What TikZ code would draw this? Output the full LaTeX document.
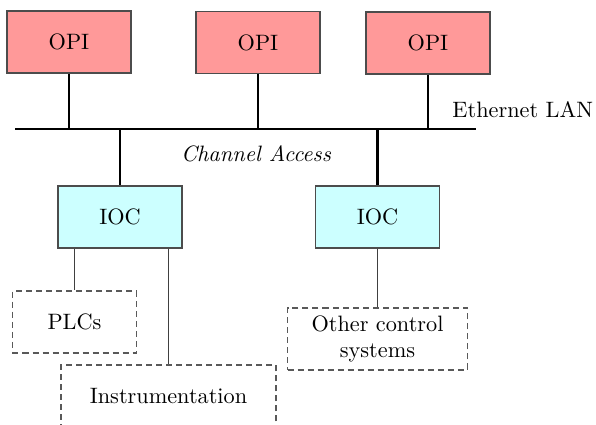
\documentclass[tikz,border=0pt]{standalone}
\definecolor{opifill}{RGB}{255,153,153}
\definecolor{iocfill}{RGB}{204,255,255}
\begin{document}
\begin{tikzpicture}[x=0.449pt,y=-0.449pt,
  box/.style={draw=black!70,line width=0.5pt,minimum width=55.7pt,minimum height=27.8pt,inner sep=0pt},
  opi/.style={box,fill=opifill},
  ioc/.style={box,fill=iocfill},
  ext/.style={draw=black!65,line width=0.5pt,dash pattern=on 2.7pt off 1.8pt,minimum height=27.8pt,inner sep=0pt,align=center},
  bus/.style={line width=0.9pt},
  link/.style={draw=black!75,line width=0.45pt}]
\clip (0,0) rectangle (596,425);
\useasboundingbox (0,0) rectangle (596,425);

% operator interfaces
\node[opi] (opi1) at (69,42) {OPI};
\node[opi] (opi2) at (258,42.5) {OPI};
\node[opi] (opi3) at (428,43) {OPI};

% the Ethernet segment
\coordinate (busL) at (15,129);
\coordinate (busR) at (476,129);
\draw[bus] (busL) -- (busR);
\node[anchor=base west,inner sep=0pt] (lan) at (452,118) {Ethernet LAN};
\node[font=\itshape] (ca) at (256,154) {Channel Access};

% input/output controllers
\node[ioc] (ioc1) at (120,217) {IOC};
\node[ioc] (ioc2) at (377.5,217) {IOC};

% attached hardware
\node[ext,minimum width=55.7pt] (plc) at (74.5,322) {PLCs};
\node[ext,minimum width=96.5pt] (ins) at (168.5,396) {Instrumentation};
\node[ext,minimum width=80.8pt] (oth) at (377.5,339) {Other control\\systems};

% network drops
\foreach \n in {opi1,opi2,opi3}
  \draw[bus] (\n.south) -- (\n.south |- busL);
\foreach \n in {ioc1,ioc2}
  \draw[bus] (\n.north |- busL) -- (\n.north);

% field connections
\draw[link] (ioc1.south -| plc.north) -- (plc.north);
\draw[link] (ioc1.south -| ins.north) -- (ins.north);
\draw[link] (ioc2.south) -- (oth.north);
\end{tikzpicture}
\end{document}
